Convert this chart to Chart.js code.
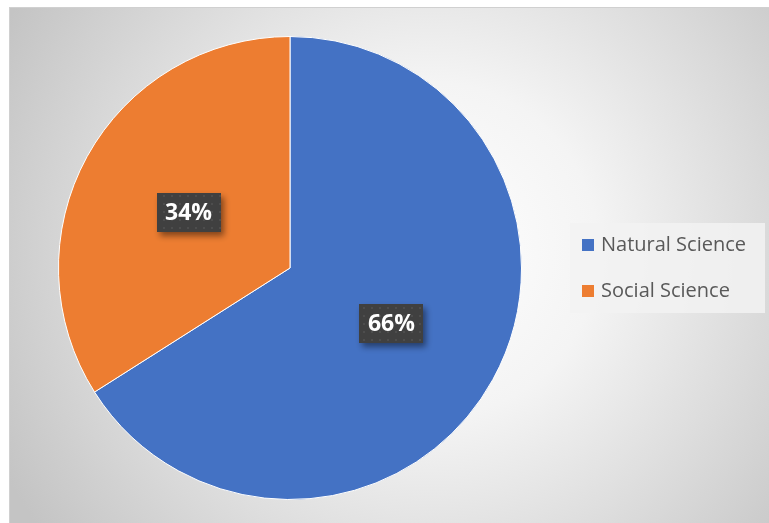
<!DOCTYPE html>
<html>
<head>
<meta charset="utf-8">
<script src="https://cdn.jsdelivr.net/npm/chart.js@4.4.1/dist/chart.umd.min.js"></script>
<style>
    html, body { margin: 0; padding: 0; background: #fff; }
    #wrap { width: 769px; height: 523px; position: relative; }
</style>
</head>
<body>
<div id="wrap"><canvas id="pieChart" width="769" height="523"></canvas></div>
<script>
const categories = ['Natural Science', 'Social Science'];
const shares = [66, 34];
const colors = ['#4472C4', '#ED7D31'];

// dotted fill used behind the data labels
function dotPattern(ctx) {
    const c = document.createElement('canvas');
    c.width = 8; c.height = 8;
    const g = c.getContext('2d');
    g.fillStyle = '#404040';
    g.fillRect(0, 0, 8, 8);
    g.fillStyle = '#4d4d4d';
    g.fillRect(3, 3, 2, 2);
    return ctx.createPattern(c, 'repeat');
}

// grey-to-white frame behind the whole chart
const backdrop = {
    id: 'backdrop',
    beforeDraw(chart) {
        const ctx = chart.ctx;
        const x = 9, y = 7, w = chart.width - x, h = chart.height - y;
        ctx.save();
        const grad = ctx.createRadialGradient(430, 250, 0, 430, 250, 480);
        grad.addColorStop(0, '#ffffff');
        grad.addColorStop(0.35, '#f4f4f4');
        grad.addColorStop(1, '#c4c4c4');
        ctx.fillStyle = grad;
        ctx.fillRect(x, y, w, h);
        ctx.strokeStyle = '#d0d0d0';
        ctx.lineWidth = 1;
        ctx.strokeRect(x + 0.5, y + 0.5, w, h);
        ctx.restore();
    },
};

// percentage boxes at each slice centre
const sliceLabels = {
    id: 'sliceLabels',
    afterDatasetsDraw(chart) {
        const ctx = chart.ctx;
        const meta = chart.getDatasetMeta(0);
        const fill = dotPattern(ctx);
        meta.data.forEach((arc, i) => {
            const p = arc.tooltipPosition();
            const bw = 64, bh = 39;
            ctx.save();
            ctx.shadowColor = 'rgba(0,0,0,0.45)';
            ctx.shadowBlur = 6;
            ctx.shadowOffsetX = 3;
            ctx.shadowOffsetY = 4;
            ctx.fillStyle = fill;
            ctx.fillRect(Math.round(p.x - bw / 2), Math.round(p.y - bh / 2), bw, bh);
            ctx.restore();
            ctx.save();
            ctx.fillStyle = '#ffffff';
            ctx.font = 'bold 23px "Open Sans"';
            ctx.textAlign = 'center';
            ctx.textBaseline = 'middle';
            ctx.fillText(shares[i] + '%', p.x, p.y + 1);
            ctx.restore();
        });
    },
};

// legend panel on the right
const sideLegend = {
    id: 'sideLegend',
    afterDraw(chart) {
        const ctx = chart.ctx;
        ctx.save();
        ctx.fillStyle = 'rgba(242,242,242,0.85)';
        ctx.fillRect(570, 223, 195, 90);
        ctx.font = '20px "Open Sans"';
        ctx.textBaseline = 'middle';
        categories.forEach((name, i) => {
            const cy = 245 + i * 46;
            ctx.fillStyle = colors[i];
            ctx.fillRect(582, cy - 6, 12, 12);
            ctx.fillStyle = '#595959';
            ctx.fillText(name, 601, cy);
        });
        ctx.restore();
    },
};

new Chart(document.getElementById('pieChart'), {
    type: 'pie',
    data: {
        labels: categories,
        datasets: [{
            data: shares,
            backgroundColor: colors,
            borderColor: '#ffffff',
            borderWidth: 1,
        }],
    },
    options: {
        responsive: false,
        animation: false,
        layout: { padding: { left: 58, top: 36, right: 247, bottom: 23 } },
        plugins: {
            legend: { display: false },
            tooltip: { enabled: false },
        },
    },
    plugins: [backdrop, sliceLabels, sideLegend],
});
</script>
</body>
</html>
